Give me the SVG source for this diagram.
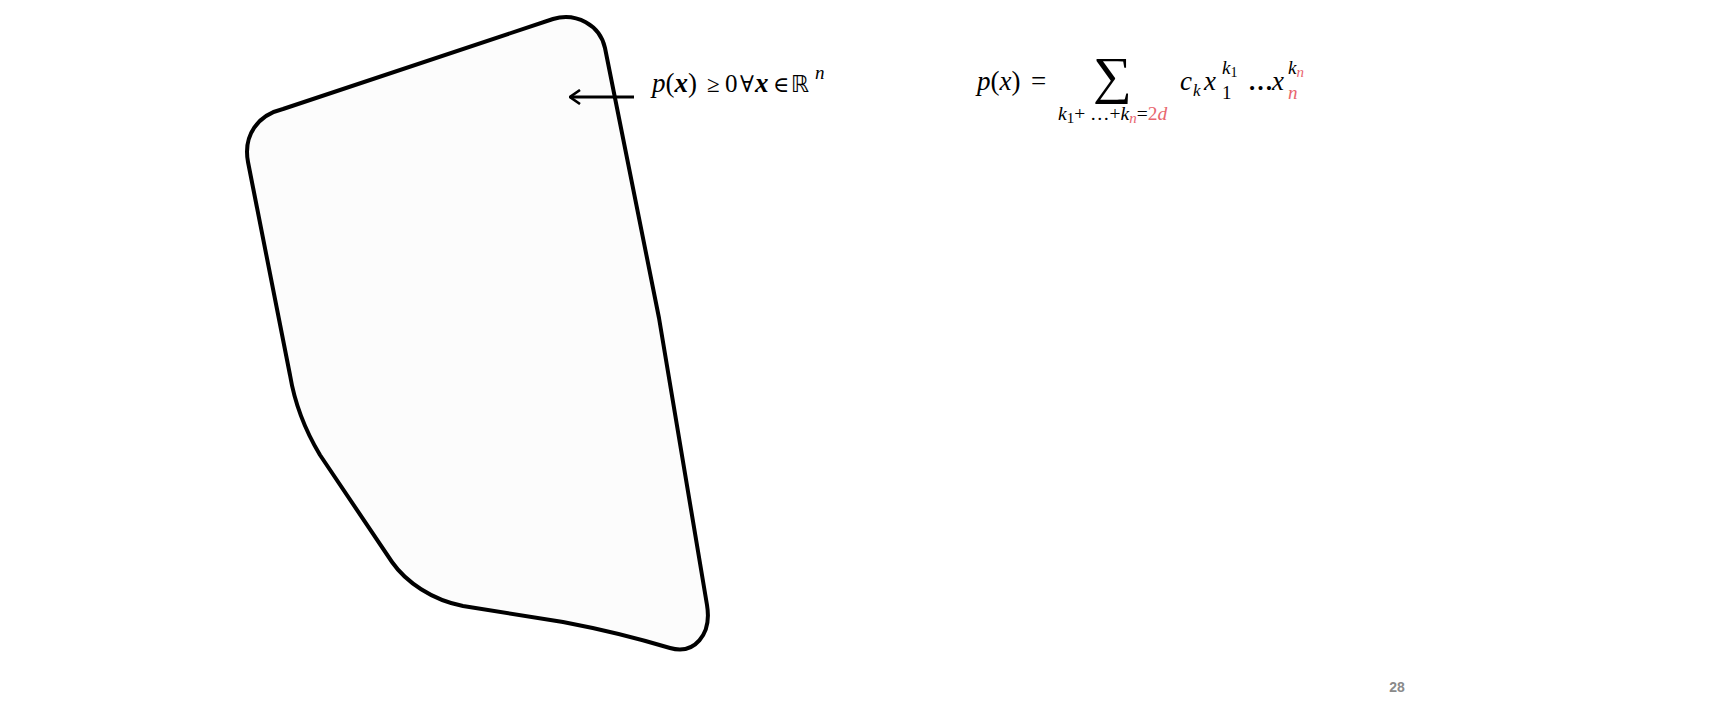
<svg xmlns="http://www.w3.org/2000/svg" width="1728" height="720" viewBox="0 0 1728 720">
<defs>
<marker id="open" viewBox="0 0 12 16" refX="11" refY="8" markerWidth="12" markerHeight="16" markerUnits="userSpaceOnUse" orient="auto">
<path d="M1,1 L11,8 L1,15" fill="none" stroke="#000" stroke-width="2.6"/>
</marker>
<style>
.m{font-family:"Liberation Serif","DejaVu Serif",serif;font-style:italic;fill:#000}
.r{font-family:"Liberation Serif","DejaVu Serif",serif;font-style:normal;fill:#000}
.red{fill:#E8666E}
</style>
</defs>
<rect width="1728" height="720" fill="#fff"/>
<g id="region">
<path d="M283,109 L553,19 C576,12 600,25 605,48 L659,318 L707,605 C712,635 694,655 670,648 C640,639 600,629 563,622 L463,606 C432,600 406,582 392,562 L320,455 C305,430 295,405 290,375 L248,162 C243,135 258,115 283,109 Z" fill="#FCFCFC" stroke="#000" stroke-width="4" stroke-linejoin="round"/>
</g>
<g id="connectors">
<line x1="634" y1="97" x2="570" y2="97" stroke="#000" stroke-width="3" marker-end="url(#open)"/>
</g>
<g id="label1" font-size="27">
<text class="m" x="652" y="92">p<tspan class="r">(</tspan><tspan font-weight="bold">x</tspan><tspan class="r">)</tspan></text>
<text class="r" x="707" y="92" font-size="23">≥</text>
<text class="r" x="725" y="92" font-size="25">0</text>
<text class="r" x="740" y="92" font-size="23">∀</text>
<text class="m" x="755" y="92" font-weight="bold">x</text>
<text class="r" x="773" y="92" font-size="22">∈</text>
<text font-family="DejaVu Sans, sans-serif" x="791" y="92" font-size="23">ℝ</text>
<text class="m" x="815" y="79" font-size="19">n</text>
</g>
<g id="label2">
<text class="m" x="977" y="90" font-size="27">p<tspan class="r">(</tspan>x<tspan class="r">)</tspan></text>
<text class="r" x="1031" y="90" font-size="27">=</text>
<text class="r" x="1093" y="93" font-size="52" textLength="39" lengthAdjust="spacingAndGlyphs">∑</text>
<text class="m" x="1058" y="120" font-size="19.5">k<tspan class="r" font-size="15" dy="3">1</tspan><tspan class="r" dy="-3">+ …+</tspan>k<tspan class="red" font-size="15" dy="3">n</tspan><tspan class="r" dy="-3">=</tspan><tspan class="red r">2</tspan><tspan class="red">d</tspan></text>
<text class="m" x="1180" y="90" font-size="27">c</text>
<text class="m" x="1193" y="96" font-size="17">k</text>
<text class="m" x="1204" y="90" font-size="27">x</text>
<text class="m" x="1222" y="74" font-size="19">k<tspan class="r" font-size="14" dy="3">1</tspan></text>
<text class="r" x="1222" y="99" font-size="19">1</text>
<text class="r" x="1248" y="90" font-size="25" font-weight="bold">…</text>
<text class="m" x="1272" y="90" font-size="27">x</text>
<text class="m" x="1288" y="74" font-size="19">k<tspan class="red" font-size="15" dy="3">n</tspan></text>
<text class="m red" x="1288" y="99" font-size="19">n</text>
</g>
<g id="page">
<text x="1397" y="692" font-family="Liberation Sans, sans-serif" font-size="14" font-weight="bold" fill="#8A8A8A" text-anchor="middle">28</text>
</g>
</svg>
